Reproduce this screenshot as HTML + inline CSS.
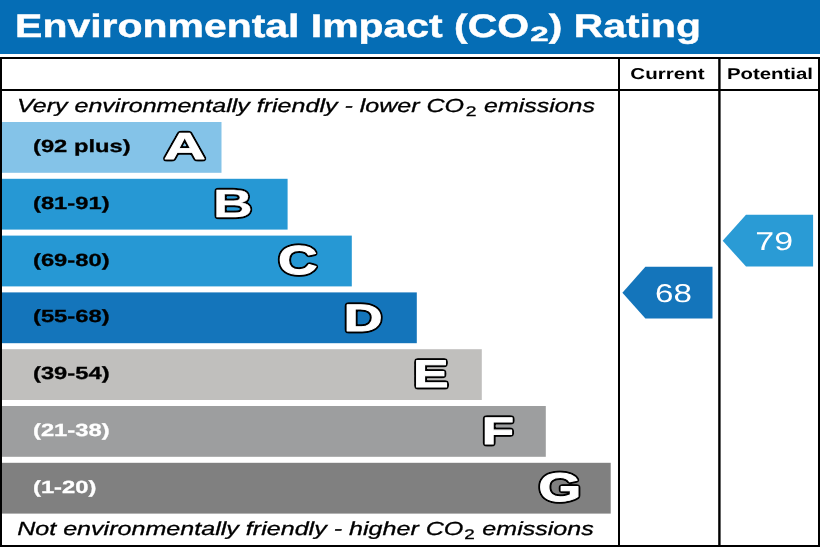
<!DOCTYPE html>
<html lang="en">
<head>
<meta charset="utf-8">
<title>Environmental Impact (CO2) Rating</title>
<style>
html,body{margin:0;padding:0;background:#fff;overflow:hidden}
svg{display:block;will-change:transform}
text{font-family:"Liberation Sans",Arial,Helvetica,sans-serif;text-rendering:geometricPrecision}
.b{font-weight:bold}
.i{font-style:italic}
</style>
</head>
<body>
<svg width="820" height="547" viewBox="0 0 820 547">
<rect x="0" y="0" width="820" height="547" fill="#fff"/>
<!-- header -->
<rect x="0" y="0" width="820" height="54" fill="#056db5"/>
<g class="b" fill="#fff" stroke="#fff" stroke-width="0.45">
<text id="t1" transform="translate(15.1,36.7) scale(1.2565,1)" font-size="32.6">Environmental Impact (CO</text>
<text id="t2" transform="translate(530.2,40.5) scale(1.63,1)" font-size="20.3">2</text>
<text id="t3" transform="translate(548.8,36.7) scale(1.254,1)" font-size="32.6">) Rating</text>
</g>
<!-- frame -->
<rect x="0" y="57" width="820" height="2" fill="#000"/>
<rect x="0" y="89" width="820" height="2" fill="#000"/>
<rect x="0" y="545" width="820" height="2" fill="#000"/>
<rect x="0" y="57" width="2" height="490" fill="#000"/>
<rect x="818" y="57" width="2" height="490" fill="#000"/>
<rect x="618" y="57" width="2" height="490" fill="#000"/>
<rect x="718.2" y="57" width="2.4" height="490" fill="#000"/>
<text id="cur" class="b" transform="translate(630.3,79.45) scale(1.31,1)" font-size="15.7" fill="#000">Current</text>
<text id="pot" class="b" transform="translate(726.9,79.45) scale(1.30,1)" font-size="15.7" fill="#000">Potential</text>
<!-- captions -->
<g fill="#000" stroke="#000" stroke-width="0.3">
<text id="top1" class="i" transform="translate(16.95,112.3) scale(1.3254,1)" font-size="18.9">Very environmentally friendly - lower CO</text>
<text id="top2" transform="translate(465.8,116.3) scale(1.38,1)" font-size="14">2</text>
<text id="top3" class="i" transform="translate(484.05,112.3) scale(1.3193,1)" font-size="18.9">emissions</text>
<text id="bot1" class="i" transform="translate(17.15,535) scale(1.3282,1)" font-size="18.9">Not environmentally friendly - higher CO</text>
<text id="bot2" transform="translate(464.2,538.6) scale(1.35,1)" font-size="14">2</text>
<text id="bot3" class="i" transform="translate(482.35,535) scale(1.3253,1)" font-size="18.9">emissions</text>
</g>
<!-- bars -->
<rect x="2" y="122" width="219.5" height="50.8" fill="#84c3e8"/>
<rect x="2" y="178.8" width="285.6" height="50.8" fill="#2698d4"/>
<rect x="2" y="235.6" width="349.8" height="50.8" fill="#2698d4"/>
<rect x="2" y="292.4" width="414.8" height="50.8" fill="#1475bb"/>
<rect x="2" y="349.2" width="479.8" height="50.8" fill="#c0bfbd"/>
<rect x="2" y="406" width="543.8" height="50.8" fill="#9d9e9f"/>
<rect x="2" y="462.8" width="608.7" height="50.8" fill="#808080"/>
<!-- range labels -->
<g class="b" font-size="17.6">
<text id="l0" transform="translate(33.0,152.10) scale(1.35,1)" fill="#000" stroke="#000" stroke-width="0.3">(92 plus)</text>
<text id="l1" transform="translate(33.0,208.87) scale(1.35,1)" fill="#000" stroke="#000" stroke-width="0.3">(81-91)</text>
<text id="l2" transform="translate(33.0,265.64) scale(1.35,1)" fill="#000" stroke="#000" stroke-width="0.3">(69-80)</text>
<text id="l3" transform="translate(33.0,322.41) scale(1.35,1)" fill="#000" stroke="#000" stroke-width="0.3">(55-68)</text>
<text id="l4" transform="translate(33.0,379.18) scale(1.35,1)" fill="#000" stroke="#000" stroke-width="0.3">(39-54)</text>
<text id="l5" transform="translate(33.0,435.95) scale(1.35,1)" fill="#fff" stroke="#fff" stroke-width="0.3">(21-38)</text>
<text id="l6" transform="translate(33.0,492.72) scale(1.35,1)" fill="#fff" stroke="#fff" stroke-width="0.3">(1-20)</text>
</g>
<!-- letters -->
<filter id="ol" filterUnits="userSpaceOnUse" x="150" y="120" width="450" height="400" color-interpolation-filters="sRGB"><feGaussianBlur in="SourceAlpha" stdDeviation="1.15" result="b"/><feComponentTransfer in="b" result="d"><feFuncA type="linear" slope="12.0" intercept="-0.1461"/></feComponentTransfer><feFlood flood-color="#000" result="f"/><feComposite in="f" in2="d" operator="in" result="blk"/><feMerge><feMergeNode in="blk"/><feMergeNode in="SourceGraphic"/></feMerge></filter>
<g class="b" font-size="40" fill="#fff" stroke="#fff" stroke-linejoin="round" filter="url(#ol)">
<text id="A" stroke-width="0.80" transform="translate(163.79,159.47) scale(1.4510,0.9428)">A</text>
<text id="B" stroke-width="0.30" transform="translate(212.88,216.60) scale(1.3728,0.9849)">B</text>
<text id="C" stroke-width="1.10" transform="translate(278.27,274.40) scale(1.3540,1.0095)">C</text>
<text id="D" stroke-width="1.00" transform="translate(343.84,331.17) scale(1.3395,0.9537)">D</text>
<text id="E" stroke-width="1.10" transform="translate(413.35,387.12) scale(1.3168,0.9609)">E</text>
<text id="F" stroke-width="1.10" transform="translate(481.88,444.13) scale(1.3042,0.9539)">F</text>
<text id="G" stroke-width="1.00" transform="translate(538.59,501.26) scale(1.3718,1.0010)">G</text>
</g>
<!-- arrows -->
<polygon points="622.4,292.7 645.4,266.8 712.5,266.8 712.5,318.6 645.4,318.6" fill="#1475bb"/>
<text id="n68" transform="translate(655,302) scale(1.29,1)" font-size="25.7" fill="#fff">68</text>
<polygon points="722.7,240.7 746,214.8 813.1,214.8 813.1,266.6 746,266.6" fill="#2a9bd5"/>
<text id="n79" transform="translate(755.3,249.7) scale(1.32,1)" font-size="25.7" fill="#fff">79</text>
</svg>
</body>
</html>
